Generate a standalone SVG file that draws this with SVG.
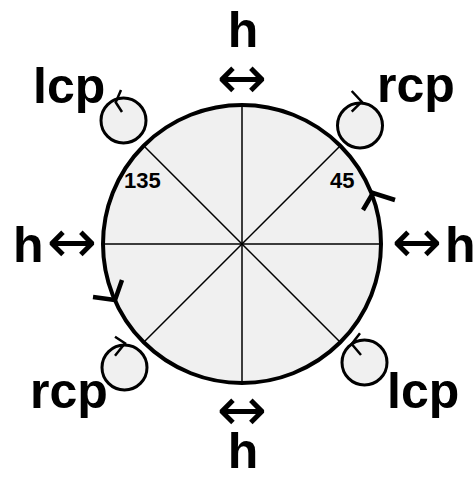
<svg xmlns="http://www.w3.org/2000/svg" width="475" height="478" viewBox="0 0 475 478">
<style>
.lbl{font-family:"Liberation Sans",Arial,sans-serif;font-weight:bold;fill:#000;}
.big{font-size:50px;}
.num{font-size:22px;}
.arr{font-family:"DejaVu Sans",sans-serif;font-size:60px;fill:#000;}
.axis{stroke:#000;stroke-width:1.5;fill:none;}
.small{fill:#f0f0f0;stroke:#000;stroke-width:3;}
.tick{fill:none;stroke:#000;stroke-width:2.5;stroke-linecap:butt;stroke-linejoin:miter;}
.chev{fill:none;stroke:#000;stroke-width:4.5;stroke-linecap:butt;stroke-linejoin:miter;}
</style>
<g id="main">
<circle cx="242" cy="244" r="139" fill="#f0f0f0" stroke="none"/>
<line class="axis" x1="242" y1="105" x2="242" y2="383"/>
<line class="axis" x1="103" y1="244" x2="381" y2="244"/>
<line class="axis" x1="143.7" y1="145.7" x2="340.3" y2="342.3"/>
<line class="axis" x1="340.3" y1="145.7" x2="143.7" y2="342.3"/>
<circle cx="242" cy="244" r="139" fill="none" stroke="#000" stroke-width="4"/>
<text class="lbl num" x="124" y="188">135</text>
<text class="lbl num" x="330" y="188">45</text>
</g>
<g id="connectors">
<polyline class="chev" points="363,210 373,193 395,200"/>
<polyline class="chev" points="122,280 115,300 93,297"/>
</g>
<g id="lcp-top">
<circle class="small" cx="123.5" cy="120.5" r="22.5"/>
<polyline class="tick" points="121,90 115.7,102.3 122,112"/>
<text class="lbl big" x="33" y="103">lcp</text>
</g>
<g id="rcp-top">
<circle class="small" cx="360" cy="125.5" r="22.5"/>
<polyline class="tick" points="351.7,91 361.7,101.7 351.7,111.7"/>
<text class="lbl big" x="377" y="102">rcp</text>
</g>
<g id="rcp-bottom">
<circle class="small" cx="124.5" cy="367.5" r="22.5"/>
<polyline class="tick" points="115,336.7 125,343.3 115,355.7"/>
<text class="lbl big" x="30" y="408">rcp</text>
</g>
<g id="lcp-bottom">
<circle class="small" cx="364.5" cy="362.5" r="22.5"/>
<polyline class="tick" points="360,333.3 351.7,344 361,355"/>
<text class="lbl big" x="387" y="408">lcp</text>
</g>
<g id="h-top">
<text class="lbl big" x="243" y="47" text-anchor="middle">h</text>
<text class="arr" x="242" y="98" text-anchor="middle">↔</text>
</g>
<g id="h-left">
<text class="lbl big" x="13" y="262">h</text>
<text class="arr" x="72" y="262" text-anchor="middle">↔</text>
</g>
<g id="h-right">
<text class="lbl big" x="445" y="262">h</text>
<text class="arr" x="417" y="262" text-anchor="middle">↔</text>
</g>
<g id="h-bottom">
<text class="arr" x="242" y="430" text-anchor="middle">↔</text>
<text class="lbl big" x="243" y="468" text-anchor="middle">h</text>
</g>
</svg>
